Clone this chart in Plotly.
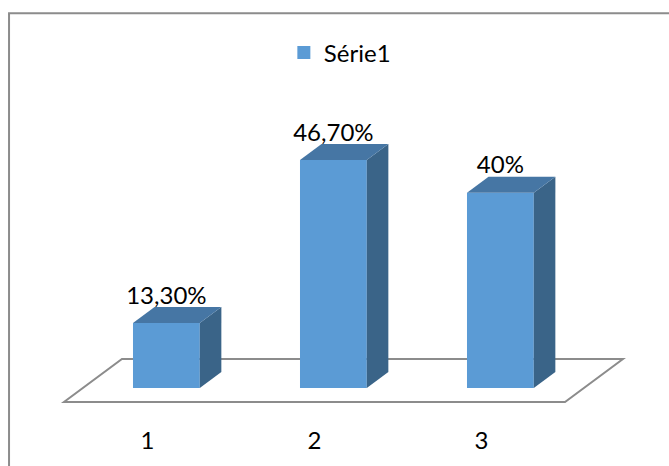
import plotly.graph_objects as go

# ---- data ----
categories = [1, 2, 3]
tick_labels = ["1", "2", "3"]
values = [13.3, 46.7, 40.0]
value_labels = ["13,30%", "46,70%", "40%"]
series_name = "Série1"

# ---- style ----
FRONT = "#5B9BD5"
TOP = "#4676A4"
SIDE = "#3A6488"
GRID = "#8c8c8c"
FONT = "Lato"
FS = 24

# 3D projection (data units): floor depth vector
floor_dx, floor_dy = 0.347, 8.81
bar_start, bar_depth = 0.326, 0.372   # fractions of floor depth
bar_w = 0.40
bx0 = bar_start * floor_dx
by0 = bar_start * floor_dy
bdx = bar_depth * floor_dx
bdy = bar_depth * floor_dy

fig = go.Figure()

# front faces (the series)
fig.add_trace(go.Bar(
    x=[c + bx0 for c in categories], y=values, base=[by0] * len(values),
    width=bar_w, marker=dict(color=FRONT, line=dict(width=0)),
    name=series_name, legendgroup="s1", showlegend=False, hoverinfo="skip"))

# legend entry for the series
fig.add_trace(go.Scatter(
    x=[None], y=[None], mode="markers", name=series_name, legendgroup="s1",
    marker=dict(symbol="square", size=13, color=FRONT), showlegend=True,
    hoverinfo="skip"))

# side and top faces
for c, v in zip(categories, values):
    xl = c + bx0 - bar_w / 2
    xr = c + bx0 + bar_w / 2
    yb = by0
    yt = by0 + v
    fig.add_trace(go.Scatter(
        x=[xr, xr + bdx, xr + bdx, xr, xr], y=[yb, yb + bdy, yt + bdy, yt, yb],
        fill="toself", fillcolor=SIDE, mode="lines", line=dict(width=0, color=SIDE),
        showlegend=False, hoverinfo="skip"))
    fig.add_trace(go.Scatter(
        x=[xl, xr, xr + bdx, xl + bdx, xl], y=[yt, yt, yt + bdy, yt + bdy, yt],
        fill="toself", fillcolor=TOP, mode="lines", line=dict(width=0, color=TOP),
        showlegend=False, hoverinfo="skip"))

# data labels
fig.add_trace(go.Scatter(
    x=[c + bx0 for c in categories],
    y=[by0 + v + bdy - 0.5 for v in values],
    text=value_labels, mode="text", textposition="top center",
    textfont=dict(family=FONT, size=FS, color="#000000"),
    showlegend=False, hoverinfo="skip"))

# floor (drawn below bars)
x_lo, x_hi = categories[0] - 0.5, categories[-1] + 0.5
floor_path = (f"M{x_lo},0 L{x_hi},0 L{x_hi + floor_dx},{floor_dy} "
              f"L{x_lo + floor_dx},{floor_dy} Z")
shapes = [
    dict(type="path", path=floor_path, xref="x", yref="y", layer="below",
         line=dict(color=GRID, width=2), fillcolor="rgba(0,0,0,0)"),
    dict(type="rect", xref="paper", yref="paper", x0=0.0135, x1=1.02,
         y0=-0.3, y1=0.969, line=dict(color=GRID, width=2), layer="below"),
]

W, H = 669, 466
B = 42
px_per_cat = 167.0
px_per_pct = 4.88
front_px = 402.0
cat1_px = 147.5
xr0 = 1 - cat1_px / px_per_cat
xr1 = 1 + (W - cat1_px) / px_per_cat
yr1 = front_px / px_per_pct
yr0 = (front_px - (H - B)) / px_per_pct

fig.update_layout(
    width=W, height=H, margin=dict(l=0, r=0, t=0, b=B),
    paper_bgcolor="white", plot_bgcolor="white",
    font=dict(family=FONT, size=FS, color="#000000"),
    shapes=shapes,
    showlegend=True,
    legend=dict(orientation="h", x=0.508, xanchor="center", y=0.875, yanchor="middle",
                font=dict(family=FONT, size=FS), itemwidth=30,
                bgcolor="rgba(0,0,0,0)"),
    xaxis=dict(range=[xr0, xr1], tickvals=categories, ticktext=tick_labels,
               showgrid=False, zeroline=False, showline=False, ticks="",
               tickfont=dict(family=FONT, size=FS)),
    yaxis=dict(range=[yr0, yr1], visible=False, showgrid=False, zeroline=False),
)

fig.write_html("out.html")
